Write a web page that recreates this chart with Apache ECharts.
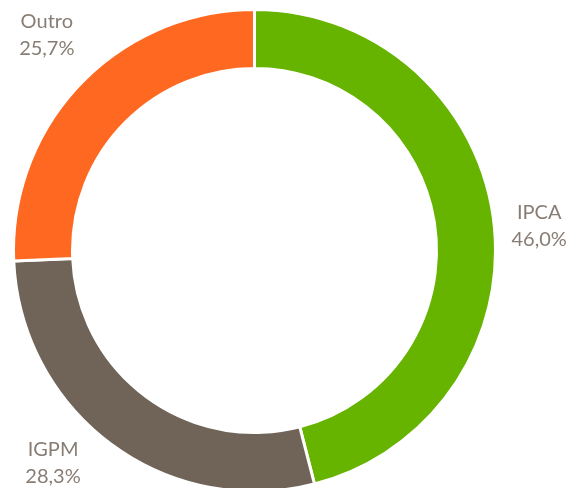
<!DOCTYPE html>
<html>
<head>
<meta charset="utf-8">
<script src="https://cdn.jsdelivr.net/npm/echarts@6/dist/echarts.min.js"></script>
<style>
html,body{margin:0;padding:0;background:#fff;}
#chart{width:584px;height:488px;}
</style>
</head>
<body>
<div id="chart"></div>
<script>
var categories = ['IPCA', 'IGPM', 'Outro'];
var values = [46.0, 28.3, 25.7];
var colors = ['#66b300', '#706358', '#ff6820'];
var labelNudge = [[-6, 12], [-27, -23], [4, -13]];

var chart = echarts.init(document.getElementById('chart'), null, {renderer: 'canvas'});
var mainData = categories.map(function (c, i) {
  return {name: c, value: values[i], itemStyle: {color: colors[i]}};
});
var labelData = categories.map(function (c, i) {
  return {name: c, value: values[i]};
});
chart.setOption({
  animation: false,
  series: [
    {
      type: 'pie',
      center: [254.5, 250.5],
      radius: [182, 241],
      startAngle: 90,
      clockwise: true,
      silent: true,
      itemStyle: {borderColor: '#ffffff', borderWidth: 3},
      label: {show: false},
      labelLine: {show: false},
      data: mainData
    },
    {
      type: 'pie',
      center: [254.5, 250.5],
      radius: [280, 300],
      startAngle: 90,
      clockwise: true,
      silent: true,
      itemStyle: {color: 'rgba(0,0,0,0)'},
      label: {
        show: true,
        position: 'inside',
        fontFamily: 'Lato',
        fontSize: 20,
        lineHeight: 27,
        color: '#887d74',
        align: 'center',
        formatter: function (p) {
          return p.name + '\n' + p.value.toFixed(1).replace('.', ',') + '%';
        }
      },
      labelLine: {show: false},
      labelLayout: function (p) {
        var n = labelNudge[p.dataIndex];
        return {dx: n[0], dy: n[1]};
      },
      data: labelData
    }
  ]
});
</script>
</body>
</html>
